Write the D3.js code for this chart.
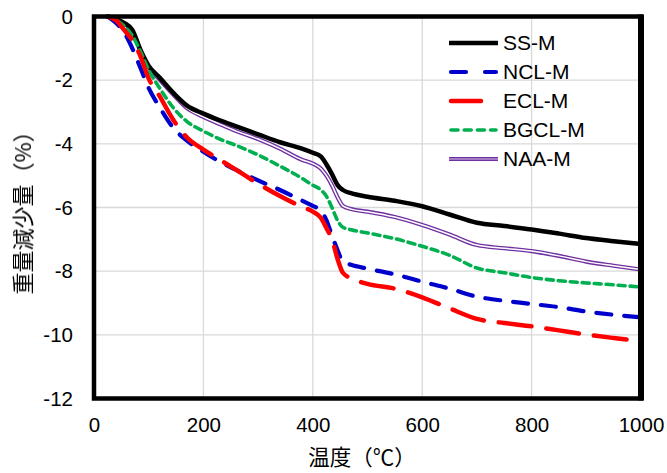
<!DOCTYPE html>
<html>
<head>
<meta charset="utf-8">
<script src="https://cdn.jsdelivr.net/npm/d3@7"></script>
<style>
  html, body { margin: 0; padding: 0; background: #fff; }
  svg { display: block; }
  text { font-family: "Liberation Sans", Arial, sans-serif; fill: #000; }
  .cjk { font-family: "Noto Sans CJK JP", "Noto Sans CJK SC", sans-serif; }
</style>
</head>
<body>
<svg id="chart" width="667" height="473"></svg>
<script>
// Temperature sampling points (°C)
const temps = [25, 40, 55, 70, 85, 100, 120, 145, 170, 200, 230, 260, 300, 340, 380, 400, 415, 425, 435, 445, 455, 470, 500, 550, 600, 650, 700, 750, 800, 850, 900, 950, 1000];

// Mass loss (%) for each sample
const ssM   = [0, -0.08, -0.2, -0.42, -1.05, -1.55, -1.92, -2.4, -2.8, -3.05, -3.26, -3.45, -3.7, -3.95, -4.15, -4.28, -4.4, -4.65, -4.95, -5.29, -5.45, -5.55, -5.66, -5.79, -5.96, -6.22, -6.48, -6.58, -6.69, -6.82, -6.96, -7.06, -7.15];
const nclM  = [0, -0.2, -0.5, -1.0, -1.62, -2.25, -2.85, -3.5, -3.9, -4.25, -4.56, -4.82, -5.15, -5.45, -5.78, -5.95, -6.1, -6.4, -6.88, -7.33, -7.7, -7.8, -7.92, -8.1, -8.33, -8.55, -8.8, -8.93, -9.03, -9.13, -9.27, -9.37, -9.45];
const eclM  = [0, -0.12, -0.42, -0.75, -1.25, -1.95, -2.5, -3.25, -3.8, -4.18, -4.5, -4.82, -5.25, -5.64, -5.98, -6.13, -6.33, -6.65, -7.0, -7.6, -8.05, -8.22, -8.4, -8.55, -8.82, -9.17, -9.5, -9.63, -9.73, -9.86, -9.99, -10.1, -10.2];
const bgclM = [0, -0.1, -0.3, -0.6, -1.1, -1.68, -2.25, -2.87, -3.3, -3.6, -3.85, -4.05, -4.35, -4.7, -5.08, -5.3, -5.45, -5.65, -6.0, -6.4, -6.62, -6.7, -6.8, -6.98, -7.22, -7.5, -7.9, -8.05, -8.2, -8.3, -8.37, -8.43, -8.5];
const naaM  = [0, -0.09, -0.22, -0.45, -1.1, -1.6, -1.98, -2.45, -2.88, -3.15, -3.38, -3.6, -3.85, -4.15, -4.5, -4.62, -4.78, -5.0, -5.3, -5.67, -5.95, -6.05, -6.13, -6.3, -6.55, -6.85, -7.18, -7.28, -7.37, -7.52, -7.7, -7.83, -7.95];

const seriesNames = ["SS-M", "NCL-M", "ECL-M", "BGCL-M", "NAA-M"];
const xTicks = [0, 200, 400, 600, 800, 1000];
const yTicks = [0, -2, -4, -6, -8, -10, -12];

const xTitle = "温度（℃）";
const yTitle = "重量減少量（%）";

// Stroke styles per series
const styles = {
  "SS-M":   { color: "#000000", width: 4.5, dash: null },
  "NCL-M":  { color: "#0000CC", width: 4.2, dash: "15,13" },
  "ECL-M":  { color: "#FF0000", width: 4.5, dash: "33,15" },
  "BGCL-M": { color: "#00B050", width: 3.6, dash: "7,5" },
  "NAA-M":  { color: "#7030A0", width: 4.2, dash: null, double: true }
};

const seriesValues = { "SS-M": ssM, "NCL-M": nclM, "ECL-M": eclM, "BGCL-M": bgclM, "NAA-M": naaM };

const svg = d3.select("#chart");
const plotL = 94, plotR = 641, plotT = 16.5, plotB = 398.5;

// Grayscale filter keeps rotated text free of colour fringes
const defs = svg.append("defs");
defs.append("filter").attr("id", "mono")
  .append("feColorMatrix").attr("type", "saturate").attr("values", 0);

const x = d3.scaleLinear().domain([0, 1000]).range([plotL, plotR]);
const y = d3.scaleLinear().domain([0, -12]).range([plotT, plotB]);

// Gridlines
const grid = svg.append("g");
grid.selectAll("line.v").data(xTicks.slice(1, -1)).join("line")
  .attr("x1", d => x(d)).attr("x2", d => x(d))
  .attr("y1", plotT).attr("y2", plotB)
  .attr("stroke", "#d9d9d9").attr("stroke-width", 1.3);
grid.selectAll("line.h").data(yTicks.slice(1, -1)).join("line")
  .attr("x1", plotL).attr("x2", plotR)
  .attr("y1", d => y(d)).attr("y2", d => y(d))
  .attr("stroke", "#d9d9d9").attr("stroke-width", 1.3);

// Axes (labels only; frame is drawn separately)
const xAxis = d3.axisBottom(x).tickValues(xTicks).tickSize(0).tickPadding(19).tickFormat(d3.format("d"));
const gx = svg.append("g").attr("transform", `translate(0,${plotB})`).call(xAxis);
gx.select(".domain").remove();
gx.selectAll("text").attr("font-size", 20.5).attr("font-family", "Liberation Sans, Arial, sans-serif").attr("fill", "#000");

const yAxis = d3.axisLeft(y).tickValues(yTicks).tickSize(0).tickPadding(21).tickFormat(d3.format("d"));
const gy = svg.append("g").attr("transform", `translate(${plotL},0)`).call(yAxis);
gy.select(".domain").remove();
gy.selectAll("text").attr("font-size", 20.5).attr("font-family", "Liberation Sans, Arial, sans-serif").attr("fill", "#000")
  .text(d => d < 0 ? "-" + Math.abs(d) : String(d));

// Clip to plot area
svg.append("clipPath").attr("id", "plot-clip")
  .append("rect").attr("x", plotL).attr("y", plotT - 3).attr("width", plotR - plotL).attr("height", plotB - plotT + 3);

const line = d3.line()
  .x((d, i) => x(temps[i]))
  .y(d => y(d))
  .curve(d3.curveMonotoneX);

const plot = svg.append("g").attr("clip-path", "url(#plot-clip)");
const drawOrder = ["NAA-M", "SS-M", "BGCL-M", "NCL-M", "ECL-M"];
drawOrder.forEach(name => {
  const s = styles[name];
  const p = plot.append("path")
    .attr("d", line(seriesValues[name]))
    .attr("fill", "none")
    .attr("stroke", s.color)
    .attr("stroke-width", s.width)
    .attr("stroke-linejoin", "round")
    .attr("stroke-linecap", s.dash ? "round" : "butt");
  if (s.dash) p.attr("stroke-dasharray", s.dash);
  if (s.double) {
    plot.append("path")
      .attr("d", line(seriesValues[name]))
      .attr("fill", "none")
      .attr("stroke", "#ffffff")
      .attr("stroke-width", 1.5)
      .attr("stroke-linejoin", "round");
  }
});

// Frame
svg.append("rect")
  .attr("x", plotL).attr("y", plotT)
  .attr("width", plotR - plotL).attr("height", plotB - plotT)
  .attr("fill", "none").attr("stroke", "#000").attr("stroke-width", 4.5);
svg.append("line")
  .attr("x1", plotR).attr("x2", plotR).attr("y1", plotT - 2).attr("y2", plotB + 2)
  .attr("stroke", "#000").attr("stroke-width", 6);

// Legend
const legend = svg.append("g");
const legY0 = 43, legDy = 29, legX1 = 449, legX2 = 498, legTextX = 503;
seriesNames.forEach((name, i) => {
  const s = styles[name];
  const yy = legY0 + i * legDy;
  const x2 = name === "ECL-M" ? 483 : legX2;
  const l = legend.append("line")
    .attr("x1", legX1 + (s.dash ? 2 : 0)).attr("x2", x2 - (s.dash ? 2 : 0))
    .attr("y1", yy).attr("y2", yy)
    .attr("stroke", s.color).attr("stroke-width", s.width)
    .attr("stroke-linecap", s.dash ? "round" : "butt");
  if (name === "NCL-M") l.attr("stroke-dasharray", "15,19");
  if (name === "BGCL-M") l.attr("stroke-dasharray", "7,6.2");
  if (s.double) {
    legend.append("line")
      .attr("x1", legX1).attr("x2", x2)
      .attr("y1", yy).attr("y2", yy)
      .attr("stroke", "#b494d2").attr("stroke-width", 1.6);
  }
  legend.append("text")
    .attr("x", legTextX).attr("y", yy)
    .attr("dy", "0.35em")
    .attr("font-size", 21)
    .text(name);
});

// Axis titles
svg.append("text")
  .attr("class", "cjk")
  .attr("x", 362).attr("y", 465)
  .attr("text-anchor", "middle")
  .attr("font-size", 21.5)
  .text(xTitle);

svg.append("text")
  .attr("class", "cjk")
  .attr("filter", "url(#mono)")
  .attr("transform", `translate(21,${(plotT + plotB) / 2}) rotate(-90)`)
  .attr("text-anchor", "middle")
  .attr("dominant-baseline", "central")
  .attr("font-size", 22)
  .text(yTitle);
</script>
</body>
</html>
